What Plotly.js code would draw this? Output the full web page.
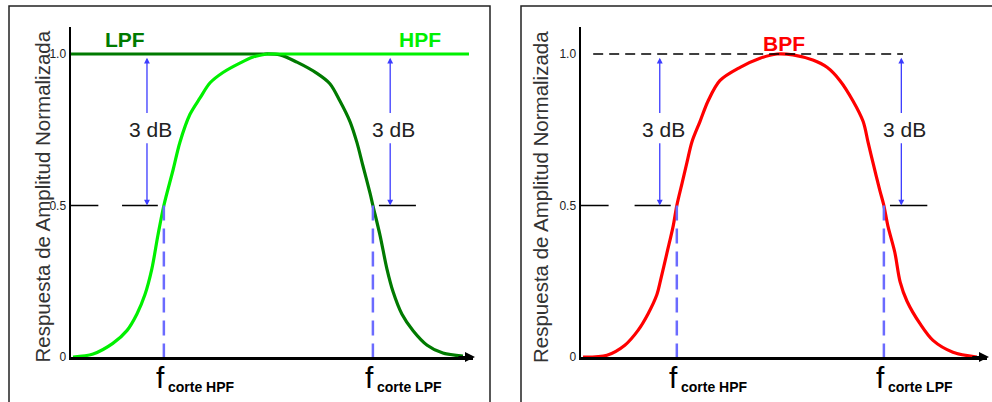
<!DOCTYPE html>
<html>
<head>
<meta charset="utf-8">
<script src="https://cdn.plot.ly/plotly-3.0.1.min.js"></script>
<style>html,body{margin:0;padding:0;background:#fff;}#chart{width:992px;height:402px;}</style>
</head>
<body>
<div id="chart"></div>
<script>
// ---- data (normalized frequency 0..10, normalized amplitude 0..1) ----
// HPF: transition band, then flat pass band
const hpfFreq = [0.05, 0.55, 1.04, 1.39, 1.64, 1.84, 2.01, 2.16, 2.31, 2.54, 2.71, 2.96, 3.21, 3.46, 3.78, 4.20, 4.53, 4.88];
const hpfAmp  = [0.00, 0.010, 0.045, 0.087, 0.142, 0.206, 0.290, 0.400, 0.500, 0.618, 0.709, 0.801, 0.855, 0.905, 0.939, 0.970, 0.990, 1.00];
const hpfPassFreq = [4.88, 9.90];
const hpfPassAmp  = [1.00, 1.00];

// LPF: flat pass band, then transition band
const lpfPassFreq = [0.00, 4.78];
const lpfPassAmp  = [1.00, 1.00];
const lpfFreq = [4.78, 5.20, 5.62, 6.12, 6.44, 6.69, 6.94, 7.11, 7.26, 7.44, 7.51, 7.69, 7.86, 8.01, 8.23, 8.51, 8.86, 9.25, 9.75];
const lpfAmp  = [1.00, 0.997, 0.973, 0.936, 0.902, 0.845, 0.777, 0.709, 0.632, 0.540, 0.500, 0.400, 0.290, 0.216, 0.142, 0.087, 0.039, 0.013, 0.003];

// BPF
const bpfFreq = [0.05, 0.64, 1.08, 1.40, 1.65, 1.87, 1.95, 2.12, 2.27, 2.36, 2.49, 2.61, 2.73, 2.93, 3.13, 3.42, 3.92, 4.41, 4.83, 5.22, 5.71, 6.06, 6.38, 6.70, 6.95, 7.07, 7.19, 7.36, 7.46, 7.56, 7.73, 7.86, 8.03, 8.35, 8.67, 9.16, 9.75];
const bpfAmp  = [0.00, 0.006, 0.039, 0.087, 0.142, 0.206, 0.248, 0.345, 0.432, 0.500, 0.574, 0.642, 0.709, 0.777, 0.845, 0.912, 0.956, 0.986, 1.00, 0.997, 0.980, 0.956, 0.912, 0.845, 0.777, 0.709, 0.642, 0.550, 0.500, 0.432, 0.345, 0.248, 0.184, 0.110, 0.055, 0.016, 0.00];

const cutoffsLeft  = {hpf: 2.31, lpf: 7.51};
const cutoffsRight = {hpf: 2.36, lpf: 7.46};
const halfLevel = 0.5;
const fullLevel = 1.0;

const yTickVals = [0, 0.5, 1.0];
const yTickText = ['0', '0.5', '1.0'];
const yTitle = 'Respuesta de Amplitud Normalizada';
const dbText = '3 dB';
const cutLabels = {hpf: 'corte HPF', lpf: 'corte LPF'};
const seriesNames = {lpf: 'LPF', hpf: 'HPF', bpf: 'BPF'};

// ---- styles ----
const FONT = 'Liberation Sans, Arial, sans-serif';
const C = {bright: '#00f000', dark: '#007a00', red: '#ff0000', blue: '#3c3cff', dash: '#6b6bff', axis: '#000', text: '#222'};
const W = 992, H = 402;
const yBottomPx = 357, pxPerUnit = 303, yMax = 1.09;
const yDomain = [(H - yBottomPx) / H, (H - yBottomPx + yMax * pxPerUnit) / H];

const curve = c => ({color: c, width: 3.2, shape: 'spline', smoothing: 0.9});
const flat = c => ({color: c, width: 3.2, shape: 'linear'});
function tr(x, y, xa, ya, line) {
  return {x: x, y: y, xaxis: xa, yaxis: ya, mode: 'lines', line: line, cliponaxis: false, hoverinfo: 'skip'};
}
const traces = [
  tr(lpfPassFreq, lpfPassAmp, 'x', 'y', flat(C.dark)),
  tr(lpfFreq, lpfAmp, 'x', 'y', curve(C.dark)),
  tr(hpfFreq, hpfAmp, 'x', 'y', curve(C.bright)),
  tr(hpfPassFreq, hpfPassAmp, 'x', 'y', flat(C.bright)),
  tr(bpfFreq, bpfAmp, 'x2', 'y2', curve(C.red))
];

function xAx(domain, anchor) {
  return {domain: domain, range: [0, 10], anchor: anchor, showline: true, linecolor: C.axis, linewidth: 2.5,
    showgrid: false, zeroline: false, showticklabels: false, ticks: '', fixedrange: true, layer: 'below traces'};
}
function yAx(anchor) {
  return {domain: yDomain, range: [0, yMax], anchor: anchor, showline: true, linecolor: C.axis, linewidth: 2.5,
    showgrid: false, zeroline: false, ticks: '', tickvals: yTickVals, ticktext: yTickText,
    tickfont: {family: FONT, size: 12, color: C.text}, fixedrange: true, layer: 'below traces'};
}

const shapes = [];
const annotations = [];

function panel(xr, yr, cuts) {
  [cuts.hpf, cuts.lpf].forEach(fc => {
    shapes.push({type: 'line', xref: xr, yref: yr, x0: fc, x1: fc, y0: halfLevel, y1: 0,
      line: {color: C.dash, width: 2.5, dash: '15px,8px'}});
  });
  const segs = [[0, 0.68], [cuts.hpf - 1.04, cuts.hpf - 0.15], [cuts.lpf + 0.15, cuts.lpf + 1.07]];
  segs.forEach(s => shapes.push({type: 'line', xref: xr, yref: yr, x0: s[0], x1: s[1], y0: halfLevel, y1: halfLevel,
    line: {color: '#000', width: 1.3}}));
  [cuts.hpf - 0.42, cuts.lpf + 0.43].forEach(ax => {
    annotations.push({xref: xr, yref: yr, axref: xr, ayref: yr, x: ax, y: 0.988, ax: ax, ay: 0.80, text: '',
      showarrow: true, arrowhead: 2, arrowsize: 0.9, arrowwidth: 1.3, arrowcolor: C.blue, standoff: 0, startstandoff: 0});
    annotations.push({xref: xr, yref: yr, axref: xr, ayref: yr, x: ax, y: halfLevel, ax: ax, ay: 0.71, text: '',
      showarrow: true, arrowhead: 2, arrowsize: 0.9, arrowwidth: 1.3, arrowcolor: C.blue, standoff: 0, startstandoff: 0});
    annotations.push({xref: xr, yref: yr, x: ax + 0.08, y: 0.752, text: dbText, showarrow: false,
      font: {family: FONT, size: 21, color: C.text}});
  });
  annotations.push({xref: xr, yref: yr, axref: xr, ayref: yr, x: 10.05, y: 0, ax: 9.6, ay: 0, text: '',
    showarrow: true, arrowhead: 2, arrowsize: 1, arrowwidth: 2, arrowcolor: '#000', standoff: 0});
  [['hpf', cuts.hpf], ['lpf', cuts.lpf]].forEach(([k, fc]) => {
    annotations.push({xref: xr, yref: yr, x: fc, y: 0, xanchor: 'right', yanchor: 'top', xshift: 3, yshift: -2,
      text: 'f', showarrow: false, font: {family: FONT, size: 30, color: '#000'}});
    annotations.push({xref: xr, yref: yr, x: fc, y: 0, xanchor: 'left', yanchor: 'top', xshift: 2, yshift: -20,
      text: '<b>' + cutLabels[k] + '</b>', showarrow: false, font: {family: FONT, size: 14, color: '#000'}});
  });
}

panel('x', 'y', cutoffsLeft);
panel('x2', 'y2', cutoffsRight);

shapes.push({type: 'line', xref: 'x2', yref: 'y2', x0: 0.30, x1: 7.93, y0: fullLevel, y1: fullLevel,
  line: {color: '#000', width: 1.3, dash: '10px,6px'}});

annotations.push({xref: 'x', yref: 'y', x: 1.34, y: 1.048, text: '<b>' + seriesNames.lpf + '</b>', showarrow: false,
  font: {family: FONT, size: 21, color: C.dark}});
annotations.push({xref: 'x', yref: 'y', x: 8.68, y: 1.048, text: '<b>' + seriesNames.hpf + '</b>', showarrow: false,
  font: {family: FONT, size: 21, color: C.bright}});
annotations.push({xref: 'x2', yref: 'y2', x: 5.0, y: 1.036, text: '<b>' + seriesNames.bpf + '</b>', showarrow: false,
  font: {family: FONT, size: 21, color: C.red}});

[28, 540].forEach(px => annotations.push({xref: 'paper', yref: 'paper', x: px / W, y: (H - 197) / H,
  text: yTitle, textangle: -90, showarrow: false, font: {family: FONT, size: 20.5, color: '#333'}}));

shapes.push({type: 'rect', xref: 'paper', yref: 'paper', x0: 9 / W, x1: 490 / W, y0: -0.02, y1: (H - 6) / H,
  line: {color: '#222', width: 1.5}, layer: 'below'});
shapes.push({type: 'rect', xref: 'paper', yref: 'paper', x0: 521 / W, x1: 1.02, y0: -0.02, y1: (H - 6) / H,
  line: {color: '#222', width: 1.5}, layer: 'below'});

const layout = {
  width: W, height: H, margin: {l: 0, r: 0, t: 0, b: 0}, paper_bgcolor: '#fff', plot_bgcolor: 'rgba(0,0,0,0)',
  showlegend: false,
  xaxis: xAx([71 / W, 473 / W], 'y'), yaxis: yAx('x'),
  xaxis2: xAx([581 / W, 987 / W], 'y2'), yaxis2: yAx('x2'),
  shapes: shapes, annotations: annotations
};

Plotly.newPlot('chart', traces, layout, {staticPlot: true, displayModeBar: false});
</script>
</body>
</html>
